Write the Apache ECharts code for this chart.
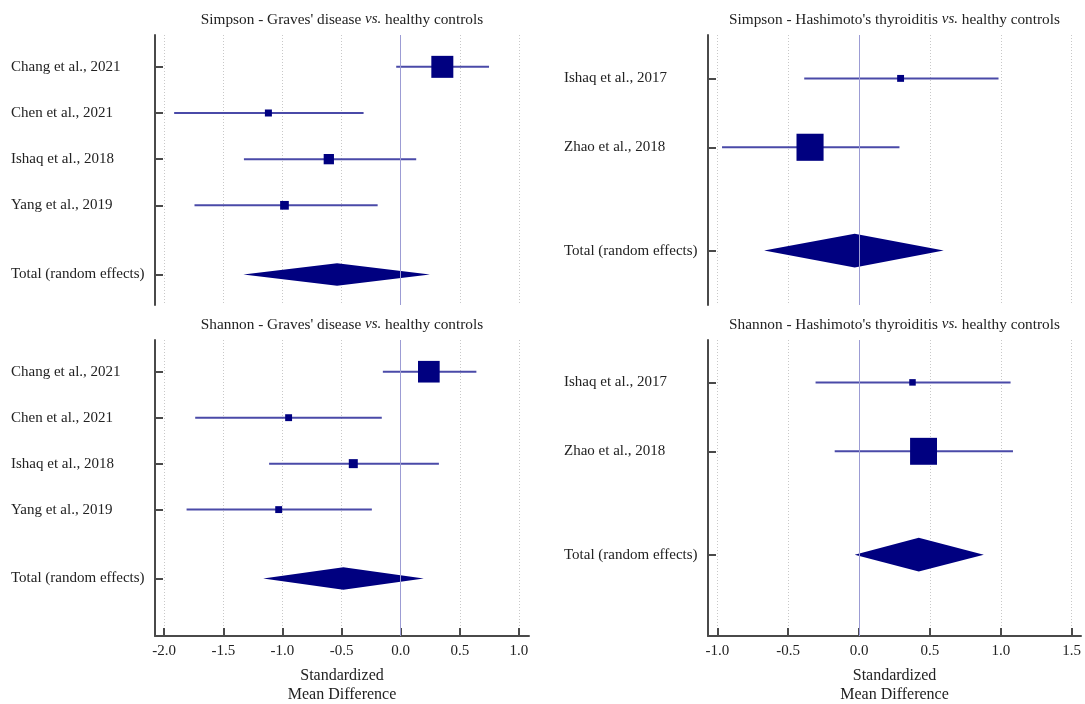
<!DOCTYPE html>
<html><head><meta charset="utf-8">
<script src="https://cdn.jsdelivr.net/npm/echarts@6/dist/echarts.min.js"></script>
<style>html,body{margin:0;padding:0;background:#fff}#c{width:1085px;height:704px}</style>
</head><body><div id="c"></div>
<script>
// ---------- data ----------
const gravesStudies = ['Chang et al., 2021', 'Chen et al., 2021', 'Ishaq et al., 2018', 'Yang et al., 2019'];
const hashiStudies = ['Ishaq et al., 2017', 'Zhao et al., 2018'];
const totalLabel = 'Total (random effects)';

// Simpson - Graves' disease
const simpGravesEst = [0.352, -1.119, -0.608, -0.983];
const simpGravesLo  = [-0.038, -1.916, -1.326, -1.744];
const simpGravesHi  = [0.747, -0.314, 0.131, -0.195];
const simpGravesWeight = [64, 6.5, 14, 10];
const simpGravesTotal = [-0.538, -1.331, 0.247];   // estimate, lower, upper

// Shannon - Graves' disease
const shanGravesEst = [0.238, -0.948, -0.401, -1.032];
const shanGravesLo  = [-0.151, -1.738, -1.113, -1.811];
const shanGravesHi  = [0.640, -0.160, 0.323, -0.244];
const shanGravesWeight = [62, 6.3, 10.7, 6.3];
const shanGravesTotal = [-0.485, -1.163, 0.195];

// Simpson - Hashimoto's thyroiditis
const simpHashiEst = [0.293, -0.346];
const simpHashiLo  = [-0.387, -0.967];
const simpHashiHi  = [0.984, 0.285];
const simpHashiWeight = [6.3, 97];
const simpHashiTotal = [-0.031, -0.670, 0.597];

// Shannon - Hashimoto's thyroiditis
const shanHashiEst = [0.377, 0.455];
const shanHashiLo  = [-0.307, -0.172];
const shanHashiHi  = [1.069, 1.086];
const shanHashiWeight = [5.6, 96];
const shanHashiTotal = [0.421, -0.031, 0.880];

const gravesTicks = [-2.0, -1.5, -1.0, -0.5, 0.0, 0.5, 1.0];
const hashiTicks  = [-1.0, -0.5, 0.0, 0.5, 1.0, 1.5];
const nullEffect = 0;

// ---------- style ----------
const FONT = 'Liberation Serif';
const NAVY = '#000080';
const CI_COLOR = '#4a4aa8';
const AXIS_COLOR = '#4a4a4a';
const TEXT_COLOR = '#222';
const SIZE_K = 2.75;
const DIAMOND_HALF = 0.245;

const panels = [
  { title: 'Simpson - Graves\' disease {i|vs.} healthy controls', studies: gravesStudies,
    est: simpGravesEst, lo: simpGravesLo, hi: simpGravesHi, w: simpGravesWeight, total: simpGravesTotal,
    ticks: gravesTicks, grid: { left: 155, top: 35, width: 374, height: 270 },
    xr: [-2.078, 1.085], pad: [0.69, 0.66], bottom: false, titleTop: 11 },
  { title: 'Simpson - Hashimoto\'s thyroiditis {i|vs.} healthy controls', studies: hashiStudies,
    est: simpHashiEst, lo: simpHashiLo, hi: simpHashiHi, w: simpHashiWeight, total: simpHashiTotal,
    ticks: hashiTicks, grid: { left: 708, top: 35, width: 373, height: 270 },
    xr: [-1.066, 1.566], pad: [0.63, 0.79], bottom: false, titleTop: 11 },
  { title: 'Shannon - Graves\' disease {i|vs.} healthy controls', studies: gravesStudies,
    est: shanGravesEst, lo: shanGravesLo, hi: shanGravesHi, w: shanGravesWeight, total: shanGravesTotal,
    ticks: gravesTicks, grid: { left: 155, top: 340, width: 374, height: 296 },
    xr: [-2.078, 1.085], pad: [0.69, 1.25], bottom: true, titleTop: 316 },
  { title: 'Shannon - Hashimoto\'s thyroiditis {i|vs.} healthy controls', studies: hashiStudies,
    est: shanHashiEst, lo: shanHashiLo, hi: shanHashiHi, w: shanHashiWeight, total: shanHashiTotal,
    ticks: hashiTicks, grid: { left: 708, top: 340, width: 373, height: 296 },
    xr: [-1.066, 1.566], pad: [0.615, 1.18], bottom: true, titleTop: 316 }
];

function renderStudy(params, api) {
  const row = api.value(1);
  const a = api.coord([api.value(2), row]);
  const b = api.coord([api.value(3), row]);
  const c = api.coord([api.value(0), row]);
  const s = SIZE_K * Math.sqrt(api.value(4));
  return { type: 'group', children: [
    { type: 'line', shape: { x1: a[0], y1: a[1], x2: b[0], y2: b[1] }, style: { stroke: CI_COLOR, lineWidth: 2 } },
    { type: 'rect', shape: { x: c[0] - s / 2, y: c[1] - s / 2, width: s, height: s }, style: { fill: NAVY } }
  ] };
}
function renderTotal(params, api) {
  const row = api.value(1);
  const l = api.coord([api.value(2), row]);
  const r = api.coord([api.value(3), row]);
  const t = api.coord([api.value(0), row - DIAMOND_HALF]);
  const bt = api.coord([api.value(0), row + DIAMOND_HALF]);
  return { type: 'polygon', shape: { points: [l, t, r, bt] }, style: { fill: NAVY } };
}

const option = { animation: false, backgroundColor: '#fff', title: [], grid: [], xAxis: [], yAxis: [], series: [] };

panels.forEach((p, i) => {
  const n = p.studies.length;
  const totalRow = n + 0.5;
  const rows = p.studies.map((_, k) => k).concat([totalRow]);
  const labels = p.studies.concat([totalLabel]);
  const labelMap = {};
  rows.forEach((r, k) => { labelMap[r.toFixed(2)] = labels[k]; });

  option.title.push({
    text: p.title, left: p.grid.left + p.grid.width / 2, top: p.titleTop, textAlign: 'center', padding: 0,
    textStyle: { fontFamily: FONT, fontSize: 15.3, fontWeight: 'normal', color: TEXT_COLOR, lineHeight: 17,
      rich: { i: { fontFamily: FONT, fontSize: 15, fontStyle: 'italic', color: TEXT_COLOR, lineHeight: 17 } } }
  });
  option.grid.push(Object.assign({ containLabel: false, outerBoundsMode: 'none' }, p.grid));
  option.xAxis.push({
    gridIndex: i, type: 'value', min: p.xr[0], max: p.xr[1],
    axisLine: { show: p.bottom, onZero: false, lineStyle: { color: AXIS_COLOR, width: 2 } },
    axisTick: { show: p.bottom, inside: true, length: 8, customValues: p.ticks, lineStyle: { color: AXIS_COLOR, width: 2 } },
    axisLabel: { show: p.bottom, customValues: p.ticks, formatter: v => Number(v).toFixed(1), margin: 8,
      color: TEXT_COLOR, fontFamily: FONT, fontSize: 15 },
    splitLine: { show: true, lineStyle: { color: '#c8c8c8', width: 1, type: [1, 2] } },
    name: p.bottom ? 'Standardized\nMean Difference' : '', nameLocation: 'middle', nameGap: 30,
    nameTextStyle: { fontFamily: FONT, fontSize: 16, color: TEXT_COLOR, lineHeight: 19 }
  });
  option.yAxis.push({
    gridIndex: i, type: 'value', inverse: true, min: -p.pad[0], max: totalRow + p.pad[1],
    axisLine: { show: true, onZero: false, lineStyle: { color: AXIS_COLOR, width: 2 } },
    axisTick: { show: true, inside: true, length: 8, customValues: rows, lineStyle: { color: AXIS_COLOR, width: 2 } },
    axisLabel: { show: true, customValues: rows, align: 'left', margin: 144,
      formatter: v => labelMap[Number(v).toFixed(2)] || '', color: TEXT_COLOR, fontFamily: FONT, fontSize: 15 },
    splitLine: { show: false }
  });
  option.series.push({
    type: 'custom', xAxisIndex: i, yAxisIndex: i, renderItem: renderStudy, silent: true,
    encode: { x: [0, 2, 3], y: 1 },
    data: p.studies.map((_, k) => [p.est[k], k, p.lo[k], p.hi[k], p.w[k]]),
    markLine: { silent: true, symbol: 'none', label: { show: false },
      lineStyle: { color: '#9c9cd4', width: 1, type: 'solid' }, data: [{ xAxis: nullEffect }] },
    z: 3
  });
  option.series.push({
    type: 'custom', xAxisIndex: i, yAxisIndex: i, renderItem: renderTotal, silent: true,
    encode: { x: [0, 2, 3], y: 1 },
    data: [[p.total[0], totalRow, p.total[1], p.total[2]]], z: 3
  });
});

const chart = echarts.init(document.getElementById('c'), null, { renderer: 'canvas' });
chart.setOption(option);
</script>
</body></html>
